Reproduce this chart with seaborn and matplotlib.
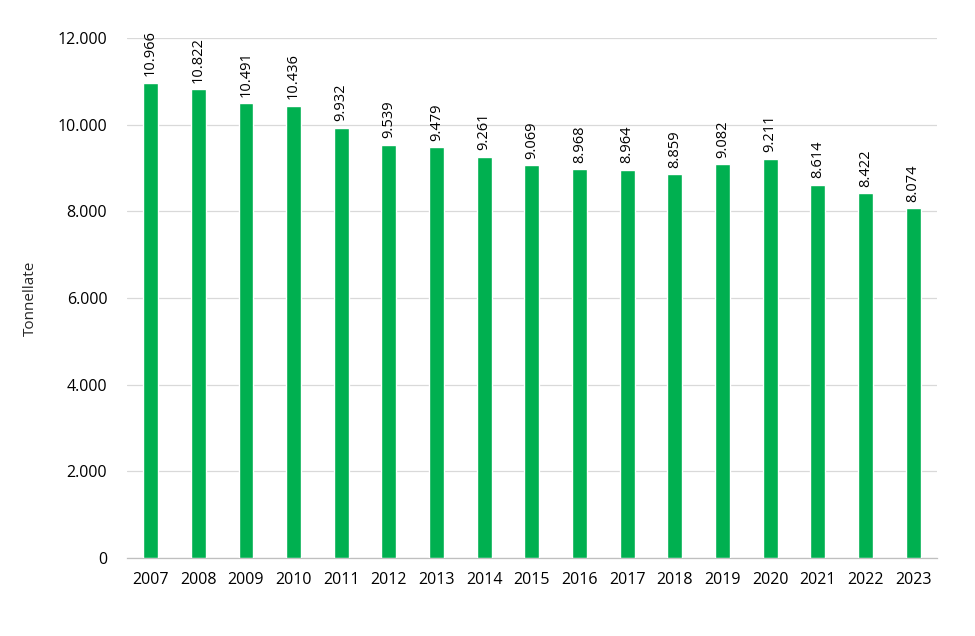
import matplotlib
matplotlib.use('Agg')
import matplotlib.pyplot as plt
import seaborn as sns
import pandas as pd
from matplotlib.ticker import FuncFormatter

years = ['2007', '2008', '2009', '2010', '2011', '2012', '2013', '2014', '2015',
         '2016', '2017', '2018', '2019', '2020', '2021', '2022', '2023']
tonnes = [10966, 10822, 10491, 10436, 9932, 9539, 9479, 9261, 9069,
          8968, 8964, 8859, 9082, 9211, 8614, 8422, 8074]
y_ticks = [0, 2000, 4000, 6000, 8000, 10000, 12000]

sns.set_theme(style='white')
plt.rcParams['font.family'] = ['Open Sans', 'DejaVu Sans']


def it_fmt(v):
    # Italian thousands separator
    return f'{int(v):,}'.replace(',', '.')


df = pd.DataFrame({'anno': years, 'tonnellate': tonnes})

fig = plt.figure(figsize=(9.75, 6.36), dpi=100)
ax = fig.add_axes([0.130, 0.1226, 0.831, 0.8176])

sns.barplot(data=df, x='anno', y='tonnellate', color='#00B050',
            saturation=1, width=0.31, ax=ax, zorder=3)

for i, v in enumerate(tonnes):
    ax.text(i, v + 150, it_fmt(v), rotation=90, ha='center', va='bottom',
            fontsize=10.5, color='#000000')

ax.set_ylim(0, 12000)
ax.set_xlim(-0.5, len(years) - 0.5)
ax.set_yticks(y_ticks)
ax.yaxis.set_major_formatter(FuncFormatter(lambda v, p: it_fmt(v)))
ax.grid(axis='y', color='#d9d9d9', linewidth=0.9, zorder=0)
ax.grid(axis='x', visible=False)

for s in ['top', 'right', 'left']:
    ax.spines[s].set_visible(False)
ax.spines['bottom'].set_color('#bfbfbf')
ax.spines['bottom'].set_linewidth(0.9)

ax.tick_params(axis='both', length=0, labelsize=11.5, colors='#000000')
ax.tick_params(axis='y', pad=14)
ax.tick_params(axis='x', pad=10)
ax.set_xlabel('')
ax.set_ylabel('Tonnellate', fontsize=11, labelpad=14)

fig.savefig('out.png', dpi=100)
